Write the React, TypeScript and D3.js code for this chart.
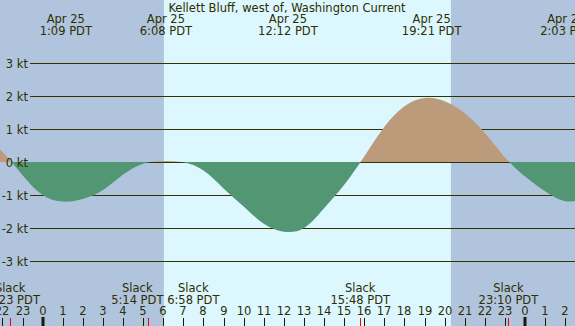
import * as d3 from 'd3'

const W = 575
const H = 326

const hours = [-3, -2, -1, 0, 1, 2, 3, 4, 5, 6, 7, 8, 9, 10, 11, 12, 13, 14, 15, 16, 17, 18, 19, 20, 21, 22, 23, 24, 25, 26, 27]
const speeds = [0.85, 0.3, -0.4, -1.0, -1.2, -1.12, -0.85, -0.38, -0.05, 0.03, -0.01, -0.26, -0.8, -1.35, -1.87, -2.11, -2.0, -1.4, -0.69, 0.17, 1.07, 1.69, 1.94, 1.84, 1.48, 0.88, 0.14, -0.44, -0.89, -1.19, -1.1]

// max flood / ebb events (top labels)
const maxHours = [1.15, 6.13, 12.2, 19.35, 26.05]
const maxDates = ['Apr 25', 'Apr 25', 'Apr 25', 'Apr 25', 'Apr 26']
const maxTimes = ['1:09 PDT', '6:08 PDT', '12:12 PDT', '19:21 PDT', '2:03 PDT']

// slack events (bottom labels)
const slackHours = [-1.62, 5.23, 6.97, 15.8, 23.17]
const slackTimes = ['22:23 PDT', '5:14 PDT', '6:58 PDT', '15:48 PDT', '23:10 PDT']

const yTicks = [3, 2, 1, 0, -1, -2, -3]
const sunrise = 6.03
const sunset = 20.31
const title = 'Kellett Bluff, west of, Washington Current'

const FONT = 'DejaVu Sans'
const TXT = '#2e2e00'

export default function App() {
  const x = d3.scaleLinear().domain([-2.124, 26.483]).range([0, W])
  const y = d3.scaleLinear().domain([0, 1]).range([162, 129])
  const y0 = y(0)

  const pts = hours.map((h, i) => [h, speeds[i]] as [number, number])
  const area = d3.area<[number, number]>()
    .x(d => x(d[0]))
    .y0(y0)
    .y1(d => y(d[1]))
    .curve(d3.curveNatural)
  const areaPath = area(pts) || ''

  // push overlapping slack labels apart
  const slackX = slackHours.map(h => x(h))
  const minGap = 56
  for (let k = 0; k < 5; k++) {
    for (let i = 1; i < slackX.length; i++) {
      const d = slackX[i] - slackX[i - 1]
      if (d < minGap) {
        const s = (minGap - d) / 2
        slackX[i - 1] -= s
        slackX[i] += s
      }
    }
  }

  const hourTicks = d3.range(Math.ceil(x.domain()[0]), Math.floor(x.domain()[1]) + 1)

  return (
    <svg width={W} height={H} style={{ position: 'absolute', left: 0, top: 0 }}
      fontFamily={FONT} fontSize={11.5}>
      <defs>
        <clipPath id="flood"><rect x={0} y={0} width={W} height={y0} /></clipPath>
        <clipPath id="ebb"><rect x={0} y={y0} width={W} height={H - y0} /></clipPath>
      </defs>
      <rect x={0} y={0} width={W} height={H} fill="#b0c4de" />
      <rect x={x(sunrise)} y={0} width={x(sunset) - x(sunrise)} height={H} fill="#ddf7ff" />

      {yTicks.map(v => (
        <line key={v} x1={30} x2={W} y1={y(v) + 0.5} y2={y(v) + 0.5} stroke="#333300" strokeWidth={1} />
      ))}

      <path d={areaPath} fill="#bc9b7b" clipPath="url(#flood)" />
      <path d={areaPath} fill="#529674" clipPath="url(#ebb)" />

      {yTicks.map(v => (
        <text key={v} x={28} y={y(v) + 4.5} textAnchor="end" fill={TXT}>{`${v} kt`}</text>
      ))}

      <text x={287} y={11.5} textAnchor="middle" fill={TXT}>{title}</text>
      {maxHours.map((h, i) => (
        <g key={i}>
          <text x={x(h)} y={23} textAnchor="middle" fill={TXT}>{maxDates[i]}</text>
          <text x={x(h)} y={35} textAnchor="middle" fill={TXT}>{maxTimes[i]}</text>
        </g>
      ))}

      {slackHours.map((h, i) => (
        <g key={i}>
          <text x={slackX[i]} y={292} textAnchor="middle" fill={TXT}>Slack</text>
          <text x={slackX[i]} y={303.5} textAnchor="middle" fill={TXT}>{slackTimes[i]}</text>
          <line x1={Math.round(x(h)) + 0.5} x2={Math.round(x(h)) + 0.5} y1={318} y2={H} stroke="#ff0000" strokeWidth={1} />
        </g>
      ))}

      {hourTicks.map(h => {
        const hx = Math.round(x(h))
        const midnight = ((h % 24) + 24) % 24 === 0
        return (
          <g key={h}>
            <text x={hx} y={315} textAnchor="middle" fill={TXT}>{String(((h % 24) + 24) % 24)}</text>
            {midnight
              ? <rect x={hx - 1.5} y={317} width={3} height={H - 317} fill="#1a1a00" />
              : <line x1={hx + 0.5} x2={hx + 0.5} y1={318} y2={H} stroke="#1a1a00" strokeWidth={1} />}
          </g>
        )
      })}
    </svg>
  )
}
